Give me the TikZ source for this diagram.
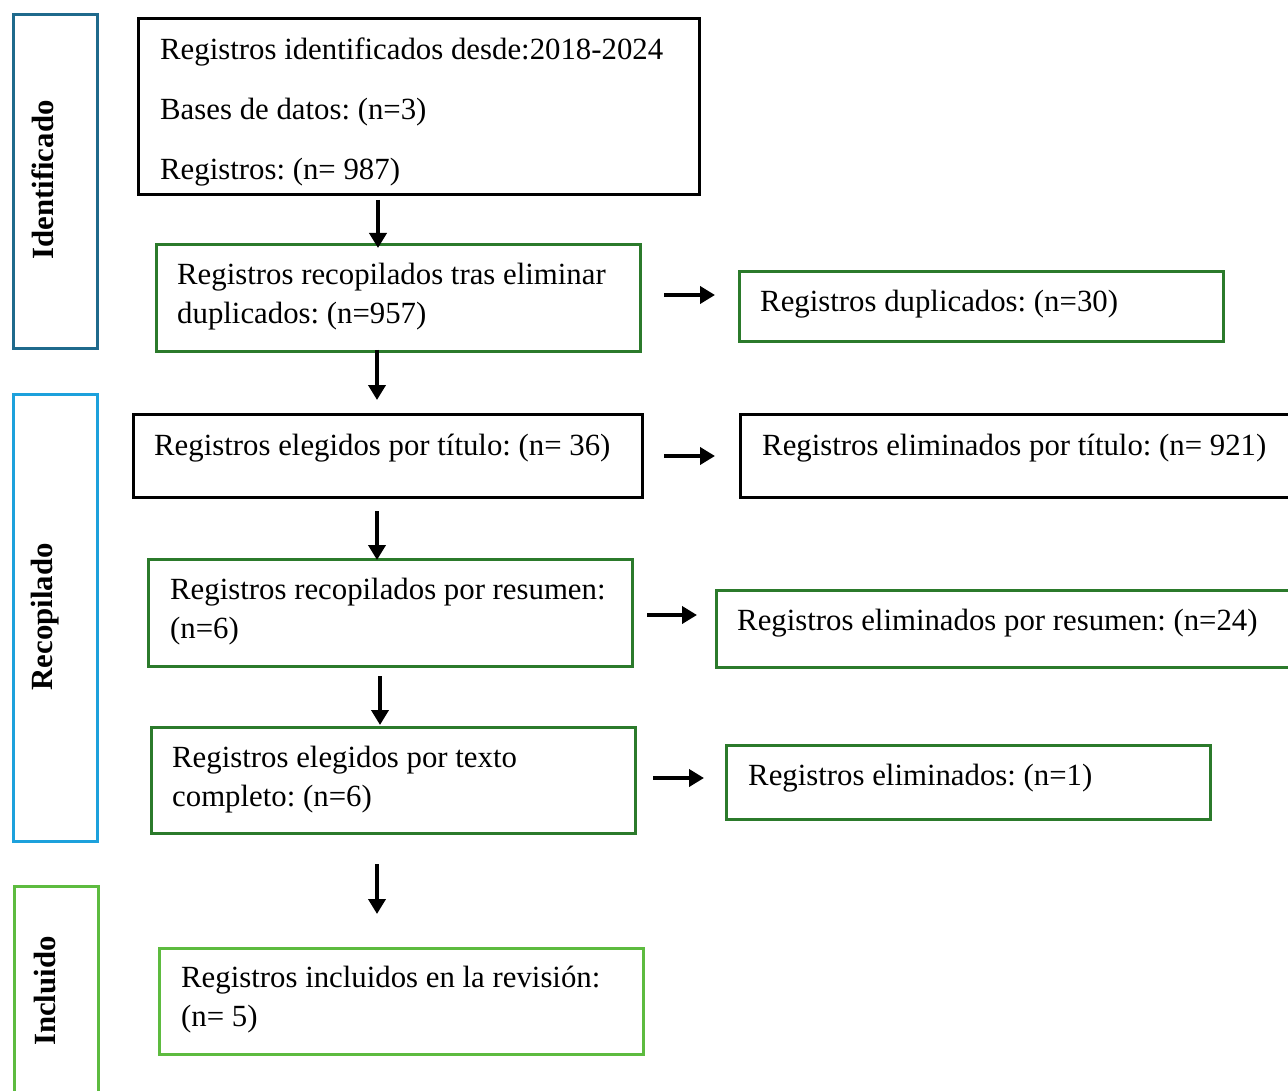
\documentclass[tikz,border=0pt]{standalone}
\usepackage{fontspec}
\setmainfont{Liberation Serif}
\usetikzlibrary{arrows.meta}
\definecolor{idblue}{HTML}{1F6A8C}
\definecolor{recblue}{HTML}{1DA1DC}
\definecolor{incgreen}{HTML}{5DBB3F}
\definecolor{dkgreen}{HTML}{2B7A2B}
\frenchspacing
\begin{document}
\begin{tikzpicture}[x=1pt,y=-1pt,
  box/.style={draw, line width=2.6pt, rectangle, inner sep=0pt, anchor=north west},
  blackbox/.style={box, draw=black},
  greenbox/.style={box, draw=dkgreen},
  txt/.style={inner sep=0pt, anchor=west, align=left, font=\fontsize{30.8}{39}\selectfont},
  sidelbl/.style={inner sep=0pt, rotate=90, anchor=base, font=\fontsize{30.8}{36}\selectfont\bfseries},
  flow/.style={line width=4.5pt, -{Triangle[length=15pt,width=17pt]}}]
\useasboundingbox (0,0) rectangle (1288,1091);
\fill[white] (0,0) rectangle (1288,1091);

% side phase boxes
\node[box, draw=idblue, minimum width=84, minimum height=334] (s1) at (12,13) {};
\node[box, draw=recblue, minimum width=84, minimum height=447] (s2) at (12,393) {};
\node[box, draw=incgreen, minimum width=84, minimum height=215] (s3) at (13,885) {};
\node[sidelbl] (l1) at (53,180) {Identificado};
\node[sidelbl] (l2) at (52,617) {Recopilado};
\node[sidelbl] (l3) at (55,991) {Incluido};

% main boxes
\node[blackbox, minimum width=561, minimum height=176] (A) at (137,17) {};
\node[txt, font=\fontsize{30.8}{60}\selectfont] (At) at (160,112) {Registros identificados desde:2018-2024\\Bases de datos: (n=3)\\Registros: (n= 987)};

\node[greenbox, minimum width=484, minimum height=107] (B) at (155,243) {};
\node[txt] (Bt) at (177,297) {Registros recopilados tras eliminar\\duplicados: (n=957)};

\node[greenbox, minimum width=484, minimum height=70] (C) at (738,270) {};
\node[txt] (Ct) at (760,304) {Registros duplicados: (n=30)};

\node[blackbox, minimum width=509, minimum height=83] (D) at (132,413) {};
\node[txt] (Dt) at (154,448) {Registros elegidos por título: (n= 36)};

\node[blackbox, minimum width=561, minimum height=83] (E) at (739,413) {};
\node[txt] (Et) at (762,448) {Registros eliminados por título: (n= 921)};

\node[greenbox, minimum width=484, minimum height=107] (F) at (147,558) {};
\node[txt] (Ft) at (170,612) {Registros recopilados por resumen:\\(n=6)};

\node[greenbox, minimum width=585, minimum height=77] (G) at (715,589) {};
\node[txt] (Gt) at (737,623) {Registros eliminados por resumen: (n=24)};

\node[greenbox, minimum width=484, minimum height=106] (H) at (150,726) {};
\node[txt] (Ht) at (172,780) {Registros elegidos por texto\\completo: (n=6)};

\node[greenbox, minimum width=484, minimum height=74] (I) at (725,744) {};
\node[txt] (It) at (748,778) {Registros eliminados: (n=1)};

\node[box, draw=incgreen, minimum width=484, minimum height=106] (J) at (158,947) {};
\node[txt] (Jt) at (181,1000) {Registros incluidos en la revisión:\\(n= 5)};

% arrows (free-standing)
\coordinate (a1s) at (378,200); \coordinate (a1e) at (378,248);
\coordinate (a2s) at (377,350); \coordinate (a2e) at (377,400);
\coordinate (a3s) at (377,511); \coordinate (a3e) at (377,560);
\coordinate (a4s) at (380,676); \coordinate (a4e) at (380,725);
\coordinate (a5s) at (377,864); \coordinate (a5e) at (377,914);
\coordinate (r1s) at (664,295); \coordinate (r1e) at (715,295);
\coordinate (r2s) at (664,456); \coordinate (r2e) at (715,456);
\coordinate (r3s) at (647,615); \coordinate (r3e) at (697,615);
\coordinate (r4s) at (653,778); \coordinate (r4e) at (704,778);
\draw[flow] (a1s) -- (a1e);
\draw[flow] (a2s) -- (a2e);
\draw[flow] (a3s) -- (a3e);
\draw[flow] (a4s) -- (a4e);
\draw[flow] (a5s) -- (a5e);
\draw[flow] (r1s) -- (r1e);
\draw[flow] (r2s) -- (r2e);
\draw[flow] (r3s) -- (r3e);
\draw[flow] (r4s) -- (r4e);
\end{tikzpicture}
\end{document}
